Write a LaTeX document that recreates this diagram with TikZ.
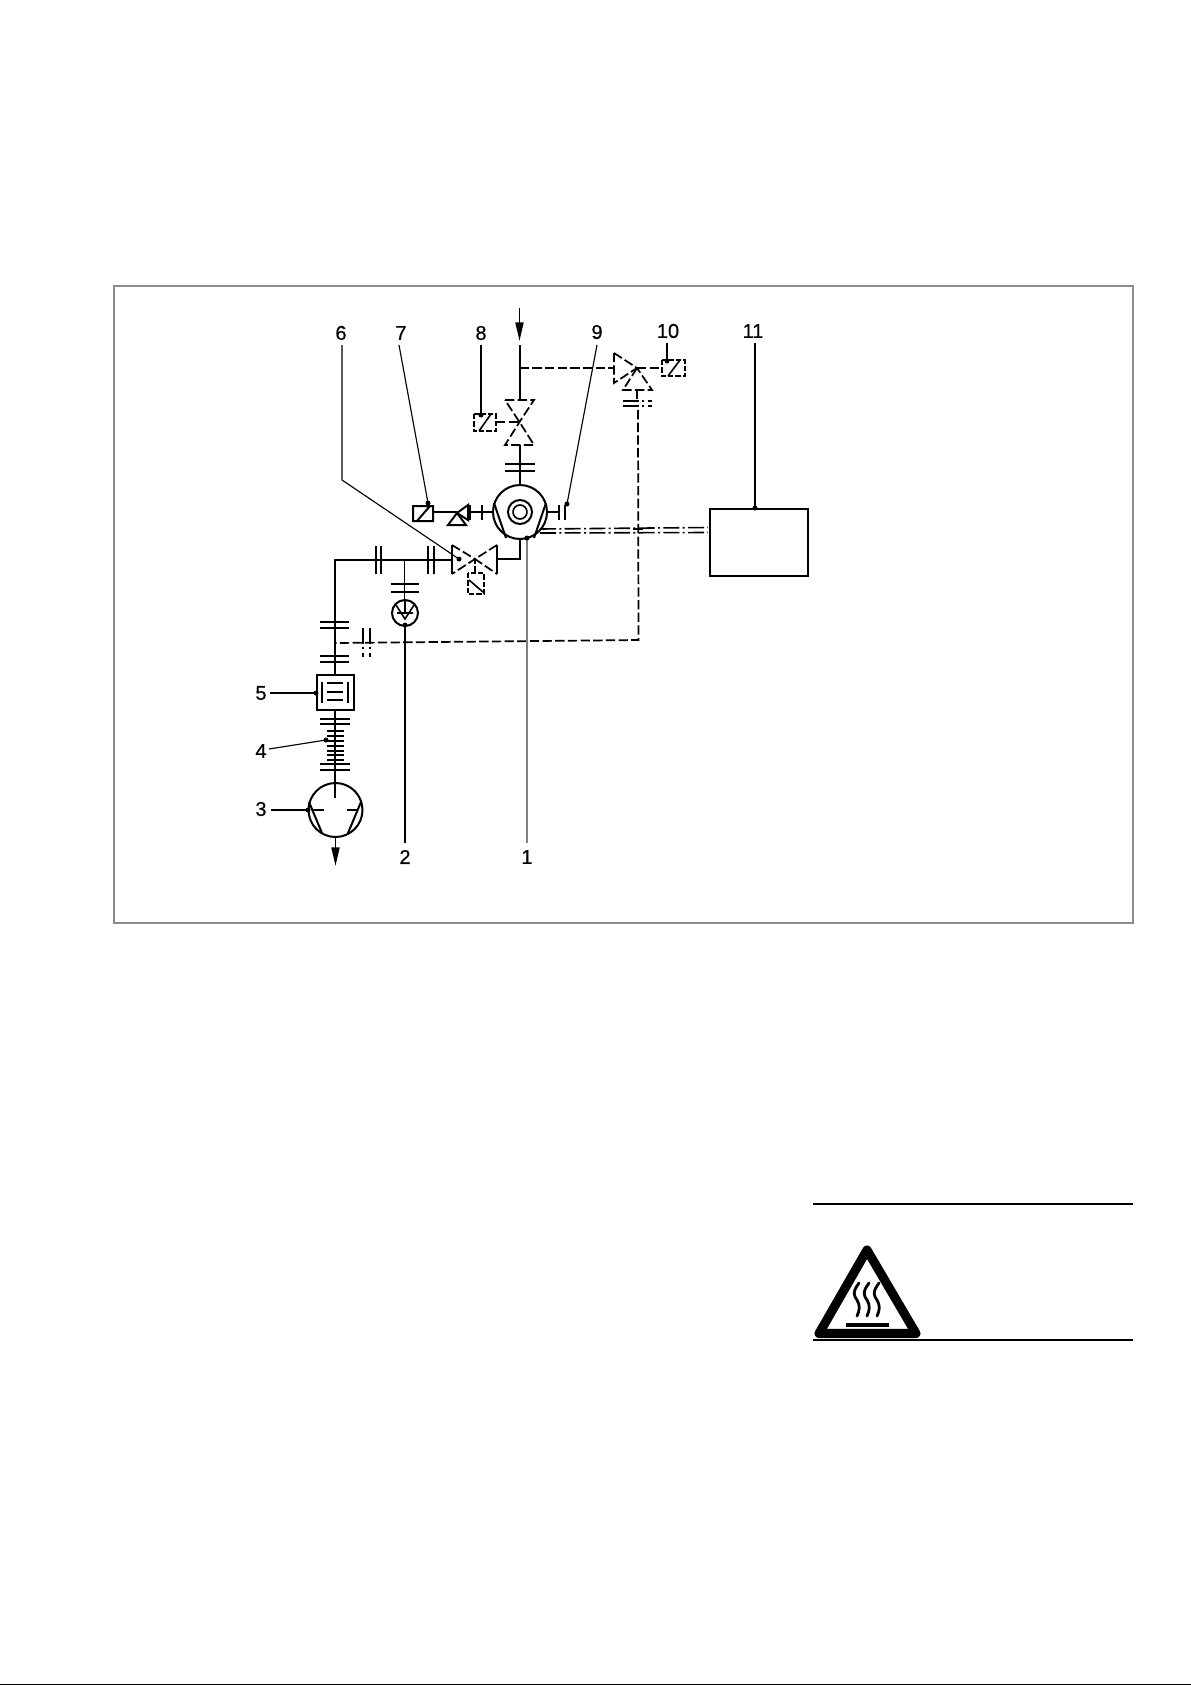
\documentclass[tikz,border=0pt]{standalone}
\usepackage{fontspec}
\setmainfont{Liberation Sans}
\newfontfamily\lblfont[FakeBold=0.45]{Liberation Sans}
\usetikzlibrary{arrows.meta}
\tikzset{
  pipe/.style={line width=1.5pt,black},
  thin pipe/.style={line width=1.2pt,black},
  dsh/.style={line width=1.3pt,black,dash pattern=on 7pt off 2.5pt},
  dshb/.style={line width=1.3pt,black,dash pattern=on 4pt off 1.5pt},
  dshd/.style={line width=1.2pt,black,dash pattern=on 12pt off 2.5pt on 1.5pt off 2.5pt},
  leader/.style={line width=0.85pt,black},
  greyleader/.style={line width=1.1pt,black!50},
  numlabel/.style={font=\lblfont\fontsize{15}{17}\selectfont,inner sep=0pt,text=black},
  dotmark/.style={fill=black,draw=none},
  fr/.style={line width=1.5pt,black!45},
  flowtip/.style={-{Triangle[length=14pt,width=6pt]},line width=1.4pt},
}
\begin{document}
\begin{tikzpicture}[x=0.75pt,y=-0.75pt]
\useasboundingbox (0,0) rectangle (1191,1685);
\draw[fr] (114,286) rectangle (1133,923);
\draw[line width=1pt] (0,1684.4) -- (1191,1684.4);

% named points
\coordinate (top) at (519.5,308);
\coordinate (toptip) at (519.5,341);
\coordinate (junc) at (519.5,368);
\coordinate (vtop) at (519.5,422);
\coordinate (pumpc) at (520,512);
\coordinate (hv) at (475,559);
\coordinate (tv) at (637,368);
\coordinate (c3) at (335.5,810);
\coordinate (c2) at (405,613);

% labels
\node[numlabel] (n1) at (527,857) {1};
\node[numlabel] (n2) at (405,857) {2};
\node[numlabel] (n3) at (261,809) {3};
\node[numlabel] (n4) at (261,751) {4};
\node[numlabel] (n5) at (261,693) {5};
\node[numlabel] (n6) at (341,333) {6};
\node[numlabel] (n7) at (401,333) {7};
\node[numlabel] (n8) at (481,333) {8};
\node[numlabel] (n9) at (597,332) {9};
\node[numlabel] (n10) at (668,331) {10};
\node[numlabel] (n11) at (753,331) {11};

% inlet
\draw[flowtip] (top) -- (toptip);
\draw[pipe] (519.5,345) -- (519.5,400);
% top valve
\draw[dsh] (505,400) -- (534,400) -- (vtop) -- (505,445) -- (534,445) -- (vtop) -- cycle;
\draw[pipe] (520,445) -- (520,485);
\draw[pipe] (505,464) -- (535,464) (505,471) -- (535,471);
% pump
\draw[pipe] (pumpc) circle[radius=27];
\draw[pipe] (pumpc) circle[radius=12];
\draw[thin pipe] (pumpc) circle[radius=7];
\draw[pipe] (494,503) -- (506,538) (546,503) -- (534,538);
% right stub
\draw[pipe] (547,512) -- (559,512) (559,505) -- (559,520) (565,505) -- (565,520);
% left stub and check valve
\draw[pipe] (493,512) -- (470,512) (482,505) -- (482,520) (470,505) -- (470,520);
\draw[pipe] (413,506) rectangle (433,521) (417,521) -- (430,506);
\draw[pipe] (433,512) -- (457,512);
\draw[pipe] (457,513) -- (448,525) -- (466,525) -- cycle;
\draw[pipe] (457,513) -- (468,505) -- (468,520) -- cycle;
% box 8
\draw[dshb] (474,414) rectangle (496,431);
\draw[thin pipe] (479,431) -- (491,414);
\draw[dsh] (496,422) -- (vtop);
% horizontal valve
\draw[dsh] (452,545) -- (hv) -- (452,574);
\draw[dsh] (497,545) -- (hv) -- (497,574);
\draw[pipe] (452,545) -- (452,574) (497,545) -- (497,574);
\draw[dshb] (hv) -- (475,573);
\draw[dshb] (468,573) rectangle (484,594);
\draw[thin pipe] (469,580) -- (483,592);
% pipe pump to valve
\draw[pipe] (520,539) -- (520,559) -- (497,559);
\draw[pipe] (452,560) -- (334.5,560) -- (334.5,675);
\draw[pipe] (376,546) -- (376,574) (381,546) -- (381,574) (428,546) -- (428,574) (434,546) -- (434,574);
% gauge branch
\draw[thin pipe] (404.5,560) -- (404.5,600);
\draw[pipe] (391,584) -- (419,584) (391,592) -- (419,592);
\draw[pipe] (c2) circle[radius=13];
\draw[thin pipe] (396,605) -- (405,619) -- (414,605) (397,613) -- (413,613) (405,600) -- (405,613);
% vertical flanges
\draw[pipe] (320,622) -- (349,622) (320,628) -- (349,628) (320,656) -- (349,656) (320,662) -- (349,662);
% box 5
\draw[pipe] (317,675) rectangle (354,710);
\draw[pipe] (322,682) -- (322,703) (348,682) -- (348,703);
\draw[pipe] (327,683) -- (343,683) (327,692) -- (343,692) (327,700) -- (343,700);
% bellows
\draw[pipe] (335,710) -- (335,798);
\draw[pipe] (320,719) -- (350,719) (320,724) -- (350,724) (320,764) -- (350,764) (320,770) -- (350,770);
\foreach \yy in {731,736,741,746,751,755,760}
  \draw[pipe] (327,\yy) -- (344,\yy);
% pump 3
\draw[pipe] (c3) circle[radius=27];
\draw[pipe] (309,802) -- (322,833) (361,802) -- (348,833);
\draw[pipe] (312,810) -- (324,810) (347,810) -- (358,810);
\coordinate (outtop) at (335.5,838);
\coordinate (outtip) at (335.5,866);
\draw[flowtip] (outtop) -- (outtip);

% three-way valve and dashed control lines
\draw[dsh] (519.5,368) -- (614,368);
\draw[dsh] (614,353) -- (tv) -- (614,383) -- cycle;
\draw[dsh] (tv) -- (623,390) -- (652,390) -- cycle;
\draw[dsh] (tv) -- (662,368);
\draw[dshb] (662,360) rectangle (685,376);
\draw[thin pipe] (668,376) -- (680,360);
\draw[dsh] (637,390) -- (637,400);
\draw[dshd] (623,401) -- (652,401) (623,406) -- (652,406);
\draw[dsh] (638,410) -- (638.5,640) -- (335,643);
\draw[dshd] (363,628) -- (363,657) (370,628) -- (370,657);

% signal lines
\draw[dshd] (540,529) -- (708,527.5);
\draw[dshd] (540,533) -- (708,532.5);
\draw[pipe] (633,529) -- (643,529);

% box 11
\node[draw,line width=1.5pt,minimum width=73.5pt,minimum height=50pt,inner sep=0pt,anchor=north west] (b11) at (709,508) {};

% leaders
\draw[greyleader] (527,843) -- (527,538);
\fill[dotmark] (527,538) circle[radius=2.5];
\draw[leader] (405,843) -- (405,625);
\fill[dotmark] (405,625) circle[radius=2.5];
\draw[leader] (271,810) -- (308,810);
\fill[dotmark] (308,810) circle[radius=2.5];
\draw[leader] (269,749) -- (326,740);
\fill[dotmark] (326,740) circle[radius=2.5];
\draw[leader] (270,693) -- (316,693);
\fill[dotmark] (316,693) circle[radius=2.5];
\draw[leader] (342,345) -- (342,480) -- (459,559);
\fill[dotmark] (459,559) circle[radius=2.5];
\draw[leader] (399,345) -- (428,503);
\fill[dotmark] (428,503) circle[radius=2.5];
\draw[leader] (481,345) -- (481,415);
\fill[dotmark] (481,415) circle[radius=2.5];
\draw[leader] (597,345) -- (567,504);
\fill[dotmark] (567,504) circle[radius=2.5];
\draw[leader] (667,343) -- (667,361);
\fill[dotmark] (667,361) circle[radius=2.5];
\draw[leader] (755,343) -- (b11.north west -| 755,0);
\fill[dotmark] (755,508) circle[radius=2.5];

% warning block
\draw[line width=0.9pt] (813,1204) -- (1133,1204) (813,1340) -- (1133,1340);
\draw[line width=6.8pt,line join=round] (867,1250) -- (819,1333.5) -- (916,1333.5) -- cycle;
\fill (846,1323) rectangle (889,1327);
\foreach \xx in {857,867,877}
  \draw[line width=2.1pt,line cap=round] (\xx+2,1283) .. controls (\xx-5,1292) and (\xx-3,1296) .. (\xx,1300) .. controls (\xx+3,1305) and (\xx+3,1310) .. (\xx,1316);
\end{tikzpicture}
\end{document}
